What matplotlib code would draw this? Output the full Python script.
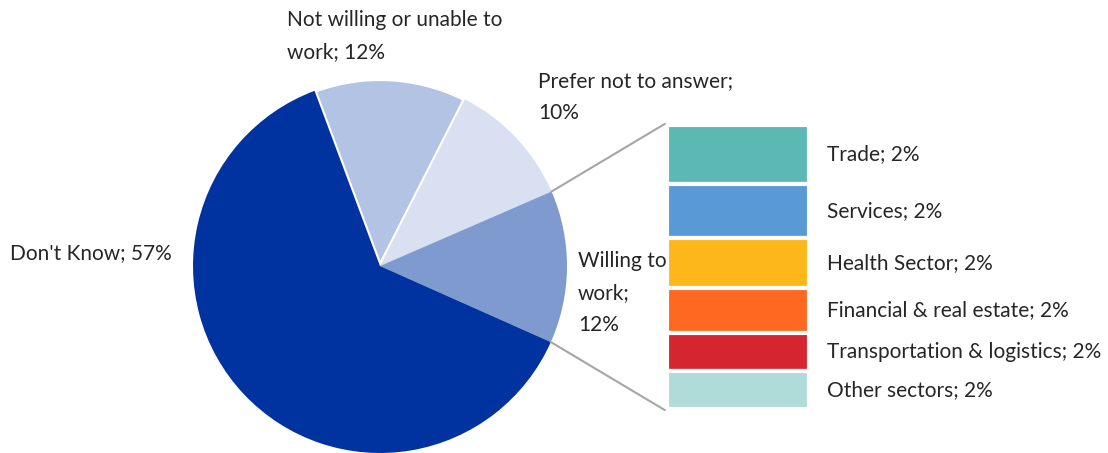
import matplotlib.pyplot as plt
from matplotlib.patches import ConnectionPatch
import numpy as np

plt.rcParams['font.family'] = ['Lato', 'DejaVu Sans']

# main pie, clockwise from the top
pie_names = ["Not willing or unable to\nwork", "Prefer not to answer;\n", "Willing to\nwork;\n", "Don't Know"]
pie_values = [12, 10, 12, 57]
pie_colors = ["#b3c3e3", "#d9e0f1", "#7f9acf", "#0033a0"]

# breakdown of "Willing to work", top to bottom
sector_names = ["Trade", "Services", "Health Sector", "Financial & real estate",
                "Transportation & logistics", "Other sectors"]
sector_values = [2.5, 2.3, 2.1, 1.9, 1.6, 1.6]
sector_colors = ["#5bb8b3", "#5899d6", "#fdb71a", "#ff6820", "#d42530", "#afdcd8"]

W, H = 1108, 453
fig = plt.figure(figsize=(W / 100, H / 100), dpi=100)
ax = fig.add_axes([0, 0, 1, 1])

cx, cy, r = 380, H - 266, 187
start = 110.5
wedges, _ = ax.pie(pie_values, colors=pie_colors, startangle=start, counterclock=False,
                   center=(cx, cy), radius=r, frame=True)
ax.set_xlim(0, W)
ax.set_ylim(0, H)
ax.set_aspect('equal')
ax.axis('off')
wedges[0].set_edgecolor('white')
wedges[0].set_linewidth(3)

total = sum(pie_values)
# edges of the "Willing to work" slice
a1 = np.deg2rad(start - 360 * (pie_values[0] + pie_values[1]) / total)
a2 = np.deg2rad(start - 360 * (pie_values[0] + pie_values[1] + pie_values[2]) / total)

txt = dict(fontsize=15, color='#262626', fontweight='normal', linespacing=1.75)
ax.text(287, H - 10, f"{pie_names[0]}; {pie_values[0]}%", va='top', ha='left', **txt)
ax.text(538, H - 71, f"{pie_names[1]}{pie_values[1]}%", va='top', ha='left', **txt)
ax.text(578, H - 251, f"{pie_names[2]}{pie_values[2]}%", va='top', ha='left', **txt)
ax.text(10, H - 253, f"{pie_names[3]}; {pie_values[3]}%", va='center', ha='left', **txt)

# stacked bar for the sector split
bx0, bx1, by0, by1 = 667, 809, 124.7, 408.7
axb = fig.add_axes([bx0 / W, 1 - by1 / H, (bx1 - bx0) / W, (by1 - by0) / H])
bar_total = sum(sector_values)
axb.set_xlim(-0.5, 0.5)
axb.set_ylim(0, bar_total)
axb.axis('off')
bottom = bar_total
for name, val, col in zip(sector_names, sector_values, sector_colors):
    bottom -= val
    axb.bar(0, val, bottom=bottom, width=1.0, color=col, edgecolor='white', linewidth=3)
    axb.text(1.13, (bottom + val / 2) / bar_total, f"{name}; {val:.0f}%",
             transform=axb.transAxes, va='center', ha='left', **txt)

for ang, yb in [(a1, 1.003), (a2, -0.005)]:
    p = (cx + r * np.cos(ang), cy + r * np.sin(ang))
    con = ConnectionPatch(xyA=p, coordsA=ax.transData,
                          xyB=(-0.015, yb), coordsB=axb.transAxes,
                          color='#a6a6a6', linewidth=1.5)
    fig.add_artist(con)

fig.savefig('out.png', dpi=100)
